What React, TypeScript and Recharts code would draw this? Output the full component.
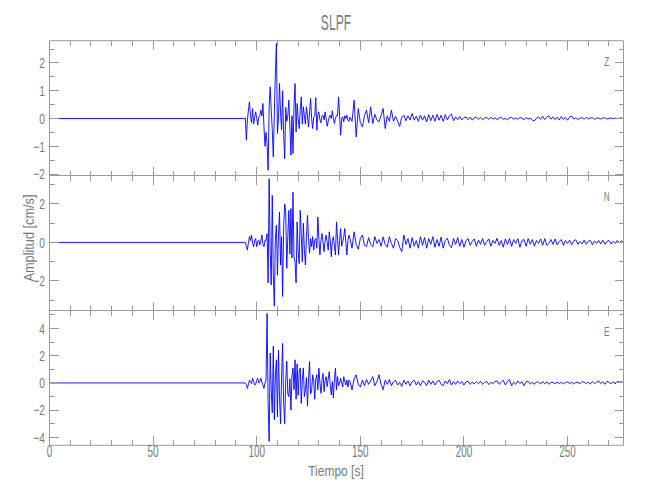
import React from 'react'
import { LineChart, Line, XAxis, YAxis } from 'recharts'

// sample times: strong motion sampled every 0.5 s, coda every 1 s
const strongStart = 94
const strongStep = 0.5
const codaStart = 146
const codaStep = 1

const timeTicks = [0, 10, 20, 30, 40, 50, 60, 70, 80, 90, 100, 110, 120, 130, 140, 150, 160, 170, 180, 190, 200, 210, 220, 230, 240, 250, 260, 270]
const timeLabels = [0, 50, 100, 150, 200, 250]

// Z component
const zStrong = [
  0, 0.02, -0.78, -0.05, 0.3, 0.6, 0.1, -0.15, 0.36, -0.2,
  0.05, 0.24, 0, -0.24, 0.05, 0.1, 0.3, 0.1, 0.54, -0.3,
  -1.0, -0.5, -0.9, -1.86, 0.42, 1.14, 0.3, -0.4, -1.38, 0.2,
  1.6, 2.7, -0.54, 0, 1.26, 0.2, -0.4, 1.0, -0.6, -1.44,
  0.4, -0.1, 0.1, 0.66, -0.3, -1.32, 0.1, -1.26, 0.5, 1.26,
  -0.48, 0.54, 0, -0.36, 0.3, 0.78, -0.2, 0.42, 0.1, -0.2,
  0.42, 0.1, -0.3, 0.2, 0.72, 0, -0.36, 0.05, 0.1, 0.75,
  -0.42, 0.15, 0.24, -0.05, -0.15, 0.1, 0.12, -0.05, 0.24, 0,
  -0.28, -0.1, 0.05, 0.12, 0, 0.28, 0, -0.18, 0, 0.12,
  0.1, 0.78, 0.1, -0.6, 0, 0.06, -0.12, 0.1, 0, 0.12,
  -0.05, -0.1, 0.05,
]
const zCoda = [
  -0.1, 0.66, -0.66, 0.36, -0.15, -0.3, 0.1, 0.3, -0.15, 0.42,
  -0.18, 0.15, -0.05, -0.12, 0.1, 0.36, -0.36, 0.1, -0.1, 0.3,
  -0.1, 0.08, -0.1, -0.28, 0.05, 0.12, -0.08, 0.1, -0.05, 0.18,
  -0.06, 0.08, -0.1, 0.12, -0.06, 0.1, -0.12, 0.14, -0.08, 0.12,
  -0.1, 0.15, -0.06, 0.12, -0.1, 0.14, -0.05, 0.1, 0.16, -0.08,
  0.06, -0.04, 0.07, -0.05, 0.03, 0.06, -0.04, 0.05, -0.06, 0.03,
  0.05, -0.03, 0.04, -0.05, 0.02, 0.04, -0.03, 0.05, -0.02, 0.03,
  -0.04, 0.02, 0.05, -0.03, 0.01, -0.05, 0.03, 0.04, -0.02, 0.02,
  -0.03, 0.04, 0.01, -0.04, 0.03, -0.02, 0.02, -0.06, -0.08, 0.02,
  0.06, -0.03, 0.08, -0.04, 0.05, 0.1, -0.02, 0.06, -0.04, 0.05,
  -0.05, 0.07, -0.03, 0.04, -0.06, 0.05, 0.09, -0.02, 0.03, -0.04,
  0.02, 0.03, -0.02, 0.04, -0.01, 0.02, 0.03, -0.03, 0.02, 0.01,
  -0.02, 0.02, 0.03, -0.02, 0.01, 0.02, -0.01, 0.02, 0, 0.01,
  0.02, 0,
]

// N component
const nStrong = [
  0, 0, -0.2, -0.4, 0, 0.3, 0.1, 0.38, 0, -0.22,
  0.1, 0.2, -0.22, 0.05, 0.12, -0.14, 0.1, 0.38, -0.1, -0.22,
  0.12, 0.1, 0.46, -2.1, 3.3, -0.5, -2.2, 2.44, -1.7, -3.3,
  0.2, 0.9, -1.7, 0.4, 1.58, -1.17, 0.3, -2.8, 0.8, 2.0,
  1.58, -1.34, 0.3, 1.66, -0.6, 1.75, -0.8, 2.6, -0.8, -1.0,
  -2.1, 1.06, -0.5, -1.1, 1.66, 0.4, -1.0, 1.0, -0.4, -1.17,
  0.3, 1.4, 0.2, -0.56, 0.2, -0.22, 0.3, -0.4, 0.1, 0.2,
  -0.3, 1.32, 0.2, -0.65, 0.1, 0.46, 0, -0.48, 0.1, 0.38,
  0, -0.4, 0.55, 0.1, -0.74, 0.1, 0.3, -0.2, -0.65, 1.06,
  0.2, -0.65, 0.1, 0.72, -0.2, 0.05, 0.3, 0.72, 0, -0.65,
  0.1, 0.38, 0.2,
]
const nCoda = [
  -0.3, 0.55, -0.1, -0.35, 0.2, 0.38, -0.15, -0.22, 0.25, -0.1,
  -0.22, 0.3, -0.05, 0.15, -0.2, 0.29, -0.1, -0.25, 0.3, -0.05,
  -0.3, 0.2, 0.1, -0.25, -0.48, 0.38, -0.1, 0.2, -0.3, 0.25,
  -0.2, 0.1, -0.3, 0.3, -0.15, 0.25, -0.3, 0.2, -0.1, 0.3,
  -0.25, 0.15, -0.2, 0.28, -0.3, 0.1, 0.22, -0.15, -0.28, 0.2,
  -0.1, 0.25, -0.2, 0.15, -0.25, 0.1, 0.2, -0.15, 0.05, 0.18,
  -0.2, 0.12, -0.1, 0.2, -0.15, 0.05, 0.18, -0.2, 0.1, -0.05,
  0.22, -0.15, 0.1, -0.25, 0.18, -0.1, 0.2, -0.2, 0.15, -0.05,
  0.2, -0.25, 0.1, 0.15, -0.2, 0.2, -0.1, 0.15, -0.2, 0.1,
  -0.05, 0.18, -0.15, 0.2, -0.15, -0.05, 0.15, -0.1, 0.18, -0.12,
  0.05, 0.15, -0.15, 0.1, -0.05, 0.12, -0.12, 0.08, 0.14, -0.1,
  0.05, -0.08, 0.12, -0.1, 0.06, 0.1, -0.12, 0.08, -0.05, 0.1,
  -0.08, 0.12, -0.1, 0.05, 0.1, -0.08, 0.06, -0.05, 0.1, -0.02,
  0.08, 0,
]

// E component
const eStrong = [
  0, 0, -0.1, -0.4, -0.1, 0.2, 0.1, -0.05, 0.34, 0.1,
  -0.15, -0.1, 0.2, 0.34, 0, 0.1, 0.34, 0.05, -0.15, -0.4,
  0, 0.22, 5.1, -1.5, -4.3, 2.2, -0.5, -2.2, 2.7, -2.7,
  0.5, 1.7, -2.5, 2.4, -1.0, -3.0, 0.5, 2.9, -1.5, -3.0,
  0.2, 1.6, -0.8, -1.0, 0.3, -2.0, 0.5, 1.1, -0.5, 1.7,
  -1.2, 1.4, -0.9, 0.8, 1.1, -1.5, 0.2, 1.1, -1.0, -0.5,
  0.4, -1.7, 0.3, 1.57, -0.8, -0.6, 0.6, 0.2, -1.2, 0.3,
  0.6, -0.5, 1.08, 0, -0.76, 0.2, 0.7, -0.64, 0.2, 0.46,
  -0.27, 0.3, 0.83, -0.2, -0.88, 0.1, -1.1, 0.3, 1.08, -0.5,
  0.46, -0.2, 0, 0.34, 0, -0.3, 0.46, 0.1, -0.15, 0.2,
  -0.3, 0.22, 0.1,
]
const eCoda = [
  -0.5, 0.3, 0.6, -0.1, -0.3, 0.2, -0.2, 0.25, -0.1, 0.15,
  0.47, -0.2, 0.1, 0.6, -0.1, -0.5, 0.2, -0.1, 0.25, -0.2,
  0.1, 0.2, -0.15, 0.05, -0.25, 0.2, -0.1, 0.15, -0.2, 0.1,
  0.2, -0.15, 0.1, -0.2, 0.15, 0.05, -0.2, 0.2, -0.1, 0.15,
  -0.15, 0.1, 0.2, -0.1, -0.2, 0.15, -0.05, 0.25, -0.15, 0.1,
  -0.1, 0.15, -0.05, 0.1, -0.15, 0.08, 0.12, -0.1, 0.05, -0.08,
  0.1, -0.05, 0.12, -0.1, 0.05, 0.1, -0.12, 0.05, -0.05, 0.1,
  0.15, -0.1, 0.05, 0.2, -0.15, 0.1, 0.25, -0.2, 0.05, -0.1,
  0.15, -0.05, 0.1, -0.2, 0.08, 0.12, -0.08, 0.05, -0.1, 0.08,
  0.05, -0.08, 0.1, -0.05, 0.08, -0.1, 0.05, 0.03, -0.05, 0.06,
  -0.04, 0.05, -0.06, 0.04, 0.08, -0.05, 0.06, -0.08, 0.04, 0.05,
  -0.06, 0.1, 0.05, -0.04, 0.06, -0.08, 0.1, -0.05, 0.06, 0.15,
  -0.05, 0.08, -0.1, 0.12, 0.05, -0.06, 0.1, -0.08, 0.12, 0.05,
  0.1, 0,
]

const zTicks = [-2, -1.5, -1, -0.5, 0, 0.5, 1, 1.5, 2, 2.5]
const zLabels = [-2, -1, 0, 1, 2]
const nTicks = [-3, -2, -1, 0, 1, 2, 3]
const nLabels = [-2, 0, 2]
const eTicks = [-4, -3, -2, -1, 0, 1, 2, 3, 4, 5]
const eLabels = [-4, -2, 0, 2, 4]

const AXIS = '#9a9a9a'
const TEXT = '#7a7a7a'
const TRACE = '#0000ff'
const FONT = "'Liberation Sans', Arial, sans-serif"

function buildTrace(strong: number[], coda: number[]) {
  return [
    { t: 0, v: 0 },
    ...strong.map((v, i) => ({ t: strongStart + i * strongStep, v })),
    ...coda.map((v, i) => ({ t: codaStart + i * codaStep, v })),
  ]
}

const fmt = (v: number) => (v < 0 ? '\u2212' + Math.abs(v) : String(v))

// ticks are drawn inward from the axis line; tickSize/tickMargin are 0 so x/y sit on the axis
function YTick(props: any) {
  const { x, y, payload, majors, side } = props
  const major = majors.includes(payload.value)
  const len = major ? 9 : 5
  const dir = side === 'left' ? 1 : -1
  return (
    <g>
      <line x1={x} y1={y} x2={x + dir * len} y2={y} stroke={AXIS} shapeRendering="crispEdges" />
      {side === 'left' && major && (
        <text
          transform={`translate(${x - 4.5},${y + 5.3}) scale(0.68,1)`}
          textAnchor="end"
          fontFamily={FONT}
          fontSize={15}
          fill={TEXT}
        >
          {fmt(payload.value)}
        </text>
      )}
    </g>
  )
}

function XTick(props: any) {
  const { x, y, payload, side, showLabels } = props
  const major = timeLabels.includes(payload.value)
  const len = major ? 9 : 5
  const dir = side === 'bottom' ? -1 : 1
  return (
    <g>
      <line x1={x} y1={y} x2={x} y2={y + dir * len} stroke={AXIS} shapeRendering="crispEdges" />
      {showLabels && major && (
        <text
          transform={`translate(${x},${y + 12}) scale(0.62,1)`}
          textAnchor="middle"
          fontFamily={FONT}
          fontSize={16}
          fill={TEXT}
        >
          {payload.value}
        </text>
      )}
    </g>
  )
}

interface PanelProps {
  data: { t: number; v: number }[]
  domain: [number, number]
  ticks: number[]
  majors: number[]
  top: number
  bottom: number
  showLabels?: boolean
}

function Panel({ data, domain, ticks, majors, top, bottom, showLabels }: PanelProps) {
  return (
    <div style={{ position: 'absolute', left: 0, top: 0 }}>
      <LineChart width={650} height={500} data={data} margin={{ top: top - 1, bottom: 500 - bottom - 1, left: 9.5, right: 25.5 }}>
        <XAxis
          dataKey="t"
          type="number"
          domain={[0, 277]}
          ticks={timeTicks}
          interval={0}
          height={1}
          tickSize={0}
          tickMargin={0}
          tickLine={false}
          axisLine={{ stroke: AXIS }}
          tick={<XTick side="bottom" showLabels={showLabels} />}
          allowDataOverflow
        />
        <XAxis
          xAxisId="top"
          orientation="top"
          dataKey="t"
          type="number"
          domain={[0, 277]}
          ticks={timeTicks}
          interval={0}
          height={1}
          tickSize={0}
          tickMargin={0}
          tickLine={false}
          axisLine={{ stroke: AXIS }}
          tick={<XTick side="top" showLabels={false} />}
          allowDataOverflow
        />
        <YAxis
          type="number"
          domain={domain}
          ticks={ticks}
          interval={0}
          width={40}
          tickSize={0}
          tickMargin={0}
          tickLine={false}
          axisLine={{ stroke: AXIS }}
          tick={<YTick side="left" majors={majors} />}
          allowDataOverflow
        />
        <YAxis
          yAxisId="r"
          orientation="right"
          type="number"
          domain={domain}
          ticks={ticks}
          interval={0}
          width={1}
          tickSize={0}
          tickMargin={0}
          tickLine={false}
          axisLine={{ stroke: AXIS }}
          tick={<YTick side="right" majors={majors} />}
          allowDataOverflow
        />
        <Line
          dataKey="v"
          type="linear"
          stroke={TRACE}
          strokeWidth={0.9}
          dot={false}
          isAnimationActive={false}
        />
      </LineChart>
    </div>
  )
}

export default function App() {
  return (
    <div style={{ position: 'absolute', left: 0, top: 0, width: 650, height: 500, background: '#fff' }}>
      <Panel data={buildTrace(zStrong, zCoda)} domain={[-2.05, 2.8]} ticks={zTicks} majors={zLabels} top={40.7} bottom={175.5} />
      <Panel data={buildTrace(nStrong, nCoda)} domain={[-3.53, 3.47]} ticks={nTicks} majors={nLabels} top={175.5} bottom={310.5} />
      <Panel data={buildTrace(eStrong, eCoda)} domain={[-4.58, 5.32]} ticks={eTicks} majors={eLabels} top={310.5} bottom={445.3} showLabels />
      <svg width={650} height={500} style={{ position: 'absolute', left: 0, top: 0, pointerEvents: 'none' }}>
        <text transform="translate(336,29.7) scale(0.55,1)" textAnchor="middle" fontFamily={FONT} fontSize={22} fill={TEXT}>
          SLPF
        </text>
        <text transform="translate(336,475.5) scale(0.8,1)" textAnchor="middle" fontFamily={FONT} fontSize={15} fill={TEXT}>
          Tiempo [s]
        </text>
        <text transform="translate(33.5,238) rotate(-90) scale(0.85,1)" textAnchor="middle" fontFamily={FONT} fontSize={15} fill={TEXT}>
          Amplitud [cm/s]
        </text>
        <text transform="translate(606.8,66) scale(0.63,1)" textAnchor="middle" fontFamily={FONT} fontSize={13} fill={TEXT}>
          Z
        </text>
        <text transform="translate(606.8,200.6) scale(0.63,1)" textAnchor="middle" fontFamily={FONT} fontSize={13} fill={TEXT}>
          N
        </text>
        <text transform="translate(606.8,336) scale(0.63,1)" textAnchor="middle" fontFamily={FONT} fontSize={13} fill={TEXT}>
          E
        </text>
      </svg>
    </div>
  )
}
